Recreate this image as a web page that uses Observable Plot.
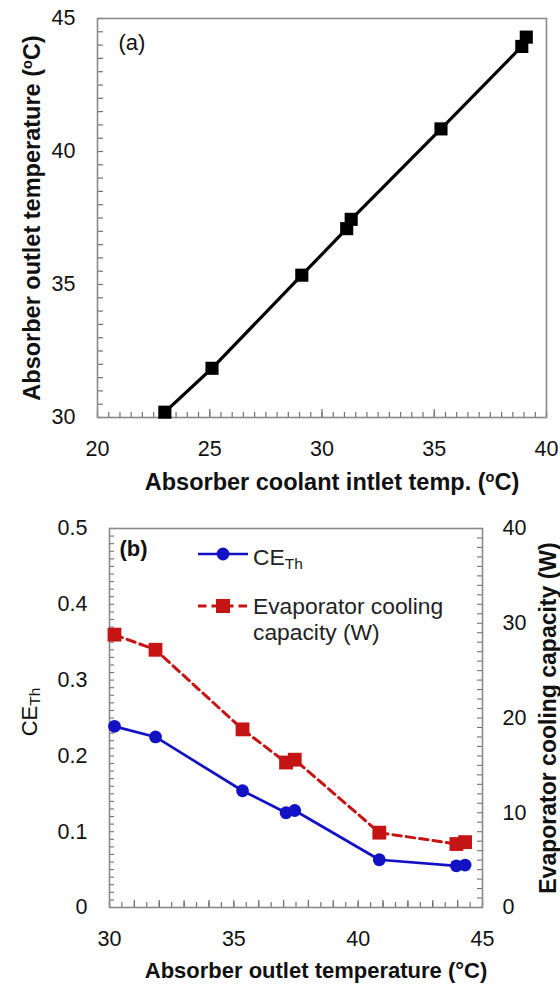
<!DOCTYPE html>
<html>
<head>
<meta charset="utf-8">
<script src="https://cdn.jsdelivr.net/npm/d3@7"></script>
<script src="https://cdn.jsdelivr.net/npm/@observablehq/plot@0.6"></script>
<style>
  body { margin: 0; background: #fff; }
  #wrap { position: relative; width: 560px; height: 986px; }
  #wrap > div > svg { display: block; }
  #legend { position: absolute; left: 0; top: 0; pointer-events: none; }
</style>
</head>
<body>
<div id="wrap">
  <div id="panelA"></div>
  <div id="panelB"></div>
  <svg id="legend" width="560" height="986"></svg>
</div>
<script>
// Absorber coolant inlet temperature (°C) and the resulting absorber outlet temperature (°C)
const coolantInlet   = [23.0, 25.1, 29.1, 31.1, 31.3, 35.3, 38.9, 39.1];
const absorberOutlet = [30.2, 31.85, 35.35, 37.1, 37.45, 40.85, 43.95, 44.3];
// Thermal cooling efficiency and evaporator cooling capacity (W) at each outlet temperature
const ceTh      = [0.239, 0.225, 0.154, 0.125, 0.128, 0.063, 0.055, 0.056];
const coolingW  = [28.8, 27.2, 18.8, 15.3, 15.6, 7.9, 6.7, 6.9];

// Tick labels
const xTicksA = [20, 25, 30, 35, 40];
const yTicksA = [30, 35, 40, 45];
const xTicksB = [30, 35, 40, 45];
const yTicksB = [0, 0.1, 0.2, 0.3, 0.4, 0.5];
const yTicksBRight = [0, 10, 20, 30, 40];

// Right axis of panel (b): 40 W spans the same height as CE 0.5
const wattsPerCE = 80;

const FONT = "'Liberation Sans', Arial, Helvetica, sans-serif";
const FRAME = "#8a8a8a";
const TICK = "#707070";
const BLUE = "#1212c4";
const RED = "#c41414";

const rowsA = coolantInlet.map((x, i) => ({inlet: x, outlet: absorberOutlet[i]}));
const rowsB = absorberOutlet.map((t, i) => ({outlet: t, ce: ceTh[i], cap: coolingW[i]}));

const steps = (lo, hi, step) => d3.range(Math.round((hi - lo) / step) + 1).map(i => +(lo + i * step).toFixed(4));

// Turn _{...} and ^{...} into subscript / superscript tspans
function richify(svg) {
  const ns = "http://www.w3.org/2000/svg";
  svg.querySelectorAll("text").forEach(el => {
    const s = el.textContent;
    if (!/[_^]\{/.test(s)) return;
    const parts = s.split(/([_^]\{[^}]*\})/).filter(Boolean);
    el.textContent = "";
    for (const p of parts) {
      const ts = document.createElementNS(ns, "tspan");
      const m = p.match(/^([_^])\{(.*)\}$/);
      if (m) {
        ts.textContent = m[2];
        ts.setAttribute("font-size", m[1] === "_" ? "0.7em" : "0.62em");
        ts.setAttribute("baseline-shift", m[1] === "_" ? "-22%" : "55%");
      } else {
        ts.textContent = p;
      }
      el.appendChild(ts);
    }
  });
  return svg;
}

// ---------- Panel (a) ----------
const A = {width: 560, height: 495, top: 18, bottom: 78, left: 97, right: 14};
const pwA = A.width - A.left - A.right;
const phA = A.height - A.top - A.bottom;

const panelA = Plot.plot({
  width: A.width, height: A.height,
  marginTop: A.top, marginBottom: A.bottom, marginLeft: A.left, marginRight: A.right,
  x: {domain: [20, 40]},
  y: {domain: [30, 45]},
  style: {fontFamily: FONT, fontSize: "21px", color: "#111", background: "#fff", overflow: "visible"},
  marks: [
    Plot.tickY(steps(30, 45, 0.5), {y: d => d, stroke: TICK, strokeWidth: 1.2, insetRight: pwA - 6}),
    Plot.tickX(steps(20, 40, 0.5), {x: d => d, stroke: TICK, strokeWidth: 1.2, insetTop: phA - 5}),
    Plot.tickX(xTicksA, {x: d => d, stroke: TICK, strokeWidth: 1.2, insetTop: phA - 8}),
    Plot.frame({stroke: FRAME, strokeWidth: 1.6}),
    Plot.axisX({ticks: xTicksA, tickSize: 0, tickPadding: 23, fontSize: 21.5, label: null}),
    Plot.axisY({ticks: yTicksA, tickSize: 0, tickPadding: 22, fontSize: 21.5, label: null}),
    Plot.line(rowsA, {x: "inlet", y: "outlet", stroke: "#000", strokeWidth: 3.2}),
    Plot.dot(rowsA, {x: "inlet", y: "outlet", symbol: "square", r: 7.4, fill: "#000"}),
    Plot.text(["(a)"], {frameAnchor: "top-left", dx: 21, dy: 24, textAnchor: "start", lineAnchor: "middle", fontSize: 22, fill: "#111"}),
    Plot.text(["Absorber coolant intlet temp. (^{o}C)"], {frameAnchor: "bottom", dx: 10, dy: 65, textAnchor: "middle", lineAnchor: "middle", fontSize: 23.5, fontWeight: "bold", fill: "#111"}),
    Plot.text(["Absorber outlet temperature (^{o}C)"], {frameAnchor: "left", dx: -65, dy: 0, rotate: -90, textAnchor: "middle", lineAnchor: "middle", fontSize: 23.5, fontWeight: "bold", fill: "#111"})
  ]
});
document.getElementById("panelA").appendChild(richify(panelA));

// ---------- Panel (b) ----------
const B = {width: 560, height: 491, top: 33, bottom: 79, left: 109, right: 78};
const pwB = B.width - B.left - B.right;
const phB = B.height - B.top - B.bottom;

const panelB = Plot.plot({
  width: B.width, height: B.height,
  marginTop: B.top, marginBottom: B.bottom, marginLeft: B.left, marginRight: B.right,
  x: {domain: [30, 45]},
  y: {domain: [0, 0.5]},
  style: {fontFamily: FONT, fontSize: "21px", color: "#111", background: "#fff", overflow: "visible"},
  marks: [
    Plot.tickY(steps(0, 0.5, 0.01), {y: d => d, stroke: TICK, strokeWidth: 1.1, insetRight: pwB - 5}),
    Plot.tickY(steps(0, 40, 1), {y: d => d / wattsPerCE, stroke: TICK, strokeWidth: 1.1, insetLeft: pwB - 5}),
    Plot.tickX(steps(30, 45, 0.5), {x: d => d, stroke: TICK, strokeWidth: 1.2, insetTop: phB - 5}),
    Plot.tickX(steps(30, 45, 1), {x: d => d, stroke: TICK, strokeWidth: 1.2, insetTop: phB - 7}),
    Plot.frame({stroke: FRAME, strokeWidth: 1.6}),
    Plot.axisX({ticks: xTicksB, tickSize: 0, tickPadding: 23, fontSize: 21.5, label: null}),
    Plot.axisY({ticks: yTicksB, tickFormat: v => String(v), tickSize: 0, tickPadding: 22, fontSize: 21.5, label: null}),
    Plot.axisY({anchor: "right", ticks: yTicksBRight.map(w => w / wattsPerCE), tickFormat: v => String(Math.round(v * wattsPerCE)), tickSize: 0, tickPadding: 20, fontSize: 21.5, label: null}),
    Plot.line(rowsB, {x: "outlet", y: d => d.cap / wattsPerCE, stroke: RED, strokeWidth: 3, strokeDasharray: "8.5,5"}),
    Plot.dot(rowsB, {x: "outlet", y: d => d.cap / wattsPerCE, symbol: "square", r: 7.8, fill: RED}),
    Plot.line(rowsB, {x: "outlet", y: "ce", stroke: BLUE, strokeWidth: 2.7}),
    Plot.dot(rowsB, {x: "outlet", y: "ce", r: 6.4, fill: BLUE}),
    Plot.text(["(b)"], {frameAnchor: "top-left", dx: 10, dy: 20, textAnchor: "start", lineAnchor: "middle", fontSize: 22, fontWeight: "bold", fill: "#111"}),
    Plot.text(["Absorber outlet temperature (°C)"], {frameAnchor: "bottom", dx: 20, dy: 63, textAnchor: "middle", lineAnchor: "middle", fontSize: 22, fontWeight: "bold", fill: "#111"}),
    Plot.text(["CE_{Th}"], {frameAnchor: "left", dx: -80, dy: -6, rotate: -90, textAnchor: "middle", lineAnchor: "middle", fontSize: 22, fill: "#111"}),
    Plot.text(["Evaporator cooling capacity (W)"], {frameAnchor: "right", dx: 66, dy: 0, rotate: -90, textAnchor: "middle", lineAnchor: "middle", fontSize: 23, fontWeight: "bold", fill: "#111"})
  ]
});
document.getElementById("panelB").appendChild(richify(panelB));

// ---------- Legend for panel (b) ----------
const lg = d3.select("#legend").attr("font-family", FONT).attr("font-size", 22.8).attr("fill", "#222");
const legX0 = 198, legX1 = 248, legSym = 223, legText = 253;
const row1 = 554, row2 = 606, lineGap = 26;

lg.append("line").attr("x1", legX0).attr("x2", legX1).attr("y1", row1).attr("y2", row1)
  .attr("stroke", BLUE).attr("stroke-width", 2.7);
lg.append("circle").attr("cx", legSym).attr("cy", row1).attr("r", 6.4).attr("fill", BLUE);
const t1 = lg.append("text").attr("x", legText).attr("y", row1 + 11);
t1.append("tspan").text("CE");
t1.append("tspan").text("Th").attr("font-size", 15.5).attr("baseline-shift", "-22%");

lg.append("line").attr("x1", legX0).attr("x2", legX1).attr("y1", row2).attr("y2", row2)
  .attr("stroke", RED).attr("stroke-width", 3).attr("stroke-dasharray", "8.5,5");
lg.append("rect").attr("x", legSym - 7).attr("y", row2 - 7).attr("width", 14).attr("height", 14).attr("fill", RED);
lg.append("text").attr("x", legText).attr("y", row2 + 8).text("Evaporator cooling");
lg.append("text").attr("x", legText).attr("y", row2 + 8 + lineGap).text("capacity (W)");
</script>
</body>
</html>
